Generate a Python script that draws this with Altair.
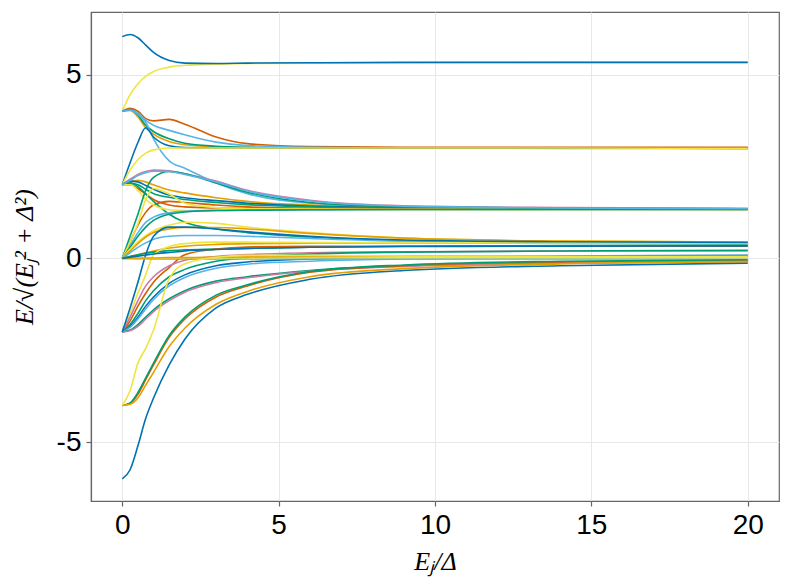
import altair as alt
import pandas as pd

x_grid = [0, 0.25, 0.5, 0.75, 1, 1.5, 2, 3, 4, 6, 9, 14, 20]

# Wong palette (Makie default)
BLUE, ORANGE, GREEN, PINK, LBLUE, VERM, YELLOW = (
    "#0072B2", "#E69F00", "#009E73", "#CC79A7", "#56B4E9", "#D55E00", "#F0E442")

level_colors = [
    YELLOW, VERM, LBLUE, ORANGE, GREEN, LBLUE, BLUE, YELLOW, PINK,
    ORANGE, BLUE, GREEN, VERM, VERM, GREEN, YELLOW, LBLUE, GREEN, YELLOW,
    GREEN, YELLOW, ORANGE, LBLUE, ORANGE, GREEN, YELLOW, VERM, PINK, GREEN,
    BLUE, LBLUE, GREEN, PINK, BLUE, LBLUE, YELLOW, ORANGE, BLUE, VERM,
    GREEN, ORANGE, YELLOW, BLUE, LBLUE, BLUE,
]

level_values = [
    [4.0, 4.45, 4.75, 4.95, 5.08, 5.2, 5.25, 5.28, 5.3, 5.31, 5.32, 5.33, 5.33],
    [4.0, 4.08, 4.0, 3.8, 3.74, 3.78, 3.65, 3.3, 3.12, 3.04, 3.02, 3.02, 3.02],
    [4.0, 4.05, 3.95, 3.75, 3.62, 3.48, 3.36, 3.16, 3.07, 3.02, 3.0, 3.0, 3.0],
    [4.0, 4.02, 3.85, 3.55, 3.38, 3.18, 3.09, 3.03, 3.01, 3.0, 3.0, 2.99, 2.99],
    [4.0, 4.05, 3.9, 3.62, 3.45, 3.25, 3.13, 3.05, 3.02, 3.0, 3.0, 3.0, 3.0],
    [4.0, 4.03, 3.92, 3.7, 3.25, 2.65, 2.45, 2.05, 1.76, 1.5, 1.4, 1.36, 1.35],
    [2.0, 2.6, 3.15, 3.55, 3.3, 3.06, 3.01, 3.0, 3.0, 3.0, 3.0, 3.0, 2.99],
    [2.0, 2.4, 2.68, 2.86, 2.95, 3.0, 3.0, 3.0, 3.0, 3.0, 3.0, 3.0, 2.99],
    [2.0, 2.15, 2.28, 2.36, 2.4, 2.38, 2.3, 2.1, 1.85, 1.58, 1.43, 1.38, 1.36],
    [2.0, 2.08, 2.12, 2.08, 2.0, 1.86, 1.78, 1.65, 1.55, 1.45, 1.39, 1.36, 1.35],
    [2.0, 2.1, 2.08, 1.98, 1.88, 1.72, 1.65, 1.57, 1.5, 1.42, 1.37, 1.35, 1.34],
    [2.0, 2.05, 2.0, 1.88, 1.76, 1.66, 1.6, 1.52, 1.46, 1.4, 1.36, 1.35, 1.34],
    [2.0, 2.0, 1.9, 1.75, 1.6, 1.45, 1.4, 1.37, 1.36, 1.35, 1.34, 1.34, 1.33],
    [0.0, 0.45, 0.9, 1.25, 1.45, 1.55, 1.52, 1.45, 1.4, 1.36, 1.35, 1.34, 1.34],
    [2.0, 2.05, 1.95, 1.75, 1.55, 1.2, 0.98, 0.8, 0.7, 0.58, 0.48, 0.44, 0.42],
    [2.0, 2.0, 1.85, 1.6, 1.45, 1.32, 1.3, 1.31, 1.32, 1.33, 1.33, 1.33, 1.33],
    [0.0, 0.35, 0.7, 0.98, 1.12, 1.24, 1.28, 1.3, 1.31, 1.32, 1.33, 1.33, 1.33],
    [0.0, 0.6, 1.2, 1.85, 2.2, 2.36, 2.3, 2.05, 1.8, 1.52, 1.4, 1.36, 1.35],
    [0.0, 0.45, 0.95, 1.6, 1.9, 1.75, 1.5, 1.38, 1.35, 1.34, 1.33, 1.33, 1.33],
    [0.0, 0.3, 0.6, 0.85, 1.03, 1.2, 1.26, 1.3, 1.31, 1.32, 1.33, 1.33, 1.33],
    [0.0, 0.25, 0.45, 0.62, 0.75, 0.9, 0.98, 0.95, 0.85, 0.7, 0.55, 0.47, 0.44],
    [0.0, 0.2, 0.4, 0.58, 0.7, 0.8, 0.84, 0.84, 0.8, 0.68, 0.55, 0.47, 0.44],
    [0.0, 0.15, 0.3, 0.42, 0.52, 0.6, 0.62, 0.62, 0.6, 0.54, 0.47, 0.44, 0.43],
    [0.0, 0.05, 0.1, 0.15, 0.2, 0.28, 0.33, 0.38, 0.4, 0.41, 0.41, 0.41, 0.41],
    [0.0, 0.05, 0.1, 0.14, 0.17, 0.21, 0.23, 0.25, 0.27, 0.3, 0.33, 0.35, 0.36],
    [-2.0, -1.5, -0.95, -0.45, 0.1, 0.32, 0.4, 0.44, 0.44, 0.43, 0.42, 0.42, 0.41],
    [-2.0, -1.7, -1.3, -0.95, -0.65, -0.25, 0.1, 0.25, 0.31, 0.33, 0.33, 0.33, 0.33],
    [-2.0, -1.6, -1.15, -0.75, -0.5, -0.2, -0.05, 0.05, 0.1, 0.15, 0.18, 0.2, 0.2],
    [-2.0, -1.8, -1.5, -1.15, -0.88, -0.5, -0.3, -0.08, 0.02, 0.12, 0.17, 0.2, 0.22],
    [-2.0, -1.85, -1.6, -1.3, -1.05, -0.68, -0.45, -0.2, -0.1, -0.02, 0.03, 0.06, 0.08],
    [-2.0, -1.88, -1.65, -1.38, -1.12, -0.75, -0.52, -0.27, -0.16, -0.08, -0.02, 0.01, 0.03],
    [-2.0, -1.95, -1.8, -1.6, -1.4, -1.1, -0.88, -0.62, -0.5, -0.33, -0.2, -0.12, -0.08],
    [-2.0, -1.97, -1.85, -1.65, -1.45, -1.15, -0.92, -0.66, -0.53, -0.35, -0.22, -0.13, -0.09],
    [-2.0, -1.35, -0.65, 0.1, 0.6, 0.85, 0.85, 0.8, 0.72, 0.6, 0.5, 0.45, 0.43],
    [0.0, 0.0, -0.01, -0.01, -0.02, -0.02, -0.02, -0.02, -0.02, -0.02, -0.02, -0.02, -0.02],
    [0.0, 0.0, 0.0, 0.0, 0.0, 0.01, 0.01, 0.01, 0.01, 0.02, 0.02, 0.02, 0.02],
    [0.0, 0.0, 0.0, 0.01, 0.01, 0.02, 0.02, 0.03, 0.04, 0.05, 0.06, 0.06, 0.06],
    [-6.0, -5.75, -5.1, -4.35, -3.8, -2.9, -2.2, -1.35, -0.98, -0.57, -0.33, -0.2, -0.13],
    [-4.0, -3.95, -3.7, -3.3, -2.9, -2.15, -1.65, -1.05, -0.75, -0.38, -0.2, -0.1, -0.06],
    [-4.0, -3.93, -3.65, -3.25, -2.85, -2.1, -1.6, -1.0, -0.72, -0.36, -0.18, -0.08, -0.04],
    [-4.0, -3.97, -3.8, -3.45, -3.1, -2.4, -1.9, -1.25, -0.9, -0.5, -0.28, -0.15, -0.09],
    [-4.0, -3.6, -2.85, -2.45, -1.95, -0.55, -0.15, 0.03, 0.08, 0.08, 0.06, 0.05, 0.04],
    [0.0, 0.03, 0.06, 0.09, 0.12, 0.16, 0.2, 0.24, 0.27, 0.3, 0.32, 0.33, 0.34],
    [2.0, 2.12, 2.25, 2.33, 2.37, 2.36, 2.28, 2.08, 1.83, 1.56, 1.42, 1.37, 1.35],
    [6.03, 6.09, 6.0, 5.8, 5.6, 5.38, 5.31, 5.3, 5.31, 5.32, 5.33, 5.33, 5.33],
]

x_ticks = [0, 5, 10, 15, 20]
y_ticks = [-5, 0, 5]

ids = [f"L{i:02d}" for i in range(len(level_values))]
rows = []
for lid, vals in zip(ids, level_values):
    for xv, yv in zip(x_grid, vals):
        rows.append({"id": lid, "x": xv, "y": yv})
df = pd.DataFrame(rows)

chart = alt.Chart(df).mark_line(
    strokeWidth=1.6, interpolate="monotone", clip=True
).encode(
    x=alt.X("x:Q", scale=alt.Scale(domain=[-1, 21], nice=False, zero=False),
            axis=alt.Axis(values=x_ticks, title="Eⱼ/Δ", titleY=68,
                          titleBaseline="alphabetic",
                          labelExpr="'' + datum.value")),
    y=alt.Y("y:Q", scale=alt.Scale(domain=[-6.6, 6.7], nice=False, zero=False),
            axis=alt.Axis(values=y_ticks, title="E/√(Eⱼ² + Δ²)", titleX=-59,
                          titleBaseline="alphabetic",
                          labelExpr="'' + datum.value")),
    color=alt.Color("id:N", scale=alt.Scale(domain=ids, range=level_colors),
                    legend=None),
).properties(
    width=688, height=489,
    autosize=alt.AutoSizeParams(type="none"),
    padding={"left": 83, "top": 4, "right": 2, "bottom": 76},
).configure_view(
    stroke="#666666", strokeWidth=1.2
).configure_axis(
    domainColor="#666666", domainWidth=1.2,
    tickColor="#666666", tickSize=5, tickWidth=1.2,
    gridColor="#e8e8e8", gridWidth=1,
    labelFont="Liberation Sans", labelFontSize=28, labelColor="#000000",
    labelPadding=5,
    titleFont="Liberation Serif", titleFontStyle="italic",
    titleFontWeight="normal", titleFontSize=26, titleColor="#000000",
)

chart.save("out.html", embed_options={"renderer": "svg", "actions": False})
